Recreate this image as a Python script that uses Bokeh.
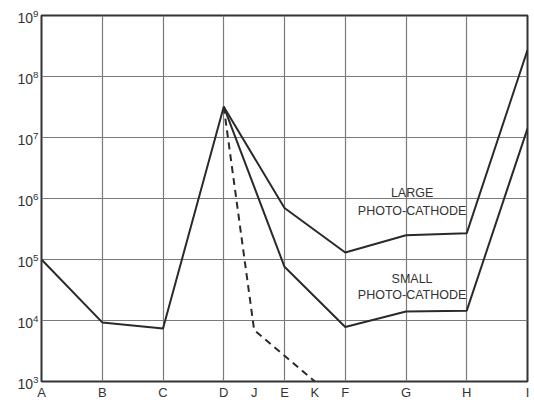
from bokeh.plotting import figure
from bokeh.models import FixedTicker, Label
from bokeh.embed import file_html
from bokeh.resources import INLINE

# categories and their positions along the x axis
categories = ["A", "B", "C", "D", "J", "E", "K", "F", "G", "H", "I"]
cat_pos = [0, 1, 2, 3, 3.5, 4, 4.5, 5, 6, 7, 8]
grid_pos = [0, 1, 2, 3, 4, 5, 6, 7, 8]

# common branch A..D
common_x = ["A", "B", "C", "D"]
common_y = [1.0e5, 9.3e3, 7.4e3, 3.2e7]

# large photo-cathode D..I
large_x = ["D", "E", "F", "G", "H", "I"]
large_y = [3.2e7, 7.0e5, 1.3e5, 2.5e5, 2.7e5, 2.7e8]

# small photo-cathode D..I
small_x = ["D", "E", "F", "G", "H", "I"]
small_y = [3.2e7, 7.6e4, 7.8e3, 1.4e4, 1.45e4, 1.4e7]

# dashed branch D..K
dash_x = ["D", "J", "K"]
dash_y = [3.2e7, 7.0e3, 1.0e3]

pos = dict(zip(categories, cat_pos))

p = figure(width=534, height=402, y_axis_type="log",
           x_range=(0, 8), y_range=(1e3, 1e9),
           output_backend="svg", toolbar_location=None,
           min_border_left=41, min_border_right=7,
           min_border_top=15, min_border_bottom=20)

p.background_fill_color = "white"
p.border_fill_color = "white"
p.outline_line_color = "#333333"
p.outline_line_width = 2

p.xaxis.ticker = FixedTicker(ticks=cat_pos)
p.xaxis.major_label_overrides = {pos[c]: c for c in categories}
p.xgrid.ticker = FixedTicker(ticks=grid_pos)
p.yaxis.ticker = FixedTicker(ticks=[1e3, 1e4, 1e5, 1e6, 1e7, 1e8, 1e9])

for ax in (p.xaxis[0], p.yaxis[0]):
    ax.axis_line_color = None
    ax.major_tick_line_color = None
    ax.minor_tick_line_color = None
    ax.major_tick_out = 0
    ax.major_tick_in = 0
    ax.minor_tick_out = 0
    ax.major_label_text_font = "Liberation Sans"
    ax.major_label_text_color = "#333333"
    ax.major_label_standoff = 3
p.xaxis.major_label_text_font_size = "13px"
p.yaxis.major_label_text_font_size = "14px"

p.xgrid.grid_line_color = "#7a7a7a"
p.ygrid.grid_line_color = "#7a7a7a"
p.xgrid.grid_line_width = 1.2
p.ygrid.grid_line_width = 1.2

col = "#2a2a2a"
p.line([pos[c] for c in common_x], common_y, line_color=col, line_width=2)
p.line([pos[c] for c in large_x], large_y, line_color=col, line_width=2)
p.line([pos[c] for c in small_x], small_y, line_color=col, line_width=2)
p.line([pos[c] for c in dash_x], dash_y, line_color=col, line_width=2, line_dash="7 5")

for txt, xx, yy in [("LARGE", 6.1, 10**6.09), ("PHOTO-CATHODE", 6.1, 10**5.79),
                    ("SMALL", 6.1, 10**4.68), ("PHOTO-CATHODE", 6.1, 10**4.42)]:
    p.add_layout(Label(x=xx, y=yy, text=txt, text_align="center",
                       text_baseline="middle", text_font="Liberation Sans",
                       text_font_size="12.5px", text_color="#333333"))

open("out.html", "w").write(file_html(p, INLINE))
